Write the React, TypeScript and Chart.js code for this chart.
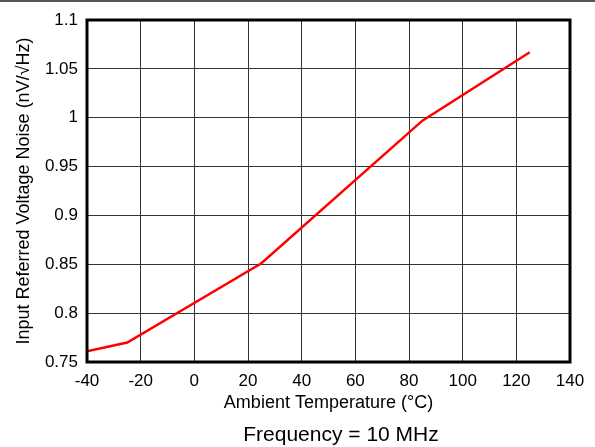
import React, { useEffect, useRef } from "react";
import { Chart, registerables } from "chart.js";

Chart.register(...registerables);

const temperatures = [-40, -25, 25, 85, 125];
const noiseValues = [0.761, 0.770, 0.851, 0.997, 1.067];
const xTitle = "Ambient Temperature (°C)";
const yTitle = "Input Referred Voltage Noise (nV/√Hz)";
const bottomTitle = "Frequency = 10 MHz";

const FONT = "'Liberation Sans', Arial, Helvetica, sans-serif";

const frame = {
  id: "frame",
  beforeDraw(chart: any) {
    const ctx = chart.ctx;
    ctx.save();
    ctx.fillStyle = "#ffffff";
    ctx.fillRect(0, 0, chart.width, chart.height);
    ctx.fillStyle = "#555555";
    ctx.fillRect(0, 0, chart.width, 2);
    ctx.restore();
  },
  afterDraw(chart: any) {
    const { ctx, chartArea } = chart;
    ctx.save();
    ctx.strokeStyle = "#000000";
    ctx.lineWidth = 3;
    ctx.strokeRect(
      chartArea.left,
      chartArea.top,
      chartArea.right - chartArea.left,
      chartArea.bottom - chartArea.top
    );
    ctx.fillStyle = "#000";
    ctx.font = `21px ${FONT}`;
    ctx.textAlign = "center";
    ctx.textBaseline = "middle";
    ctx.fillText(bottomTitle, 341, 435);
    ctx.restore();
  },
};

export default function App() {
  const ref = useRef<HTMLCanvasElement | null>(null);
  useEffect(() => {
    if (!ref.current) return;
    const data = temperatures.map((t, i) => ({ x: t, y: noiseValues[i] }));
    const chart = new Chart(ref.current, {
      type: "line",
      data: {
        datasets: [
          {
            data,
            borderColor: "#ff0000",
            borderWidth: 2.5,
            pointRadius: 0,
            tension: 0,
            fill: false,
          },
        ],
      },
      options: {
        animation: false,
        responsive: false,
        devicePixelRatio: 1,
        layout: { padding: { left: 0, right: 25, top: 20, bottom: 33.2 } },
        plugins: {
          legend: { display: false },
          tooltip: { enabled: false },
          title: { display: false },
        },
        scales: {
          x: {
            type: "linear",
            min: -40,
            max: 140,
            ticks: {
              stepSize: 20,
              color: "#000",
              font: { family: FONT, size: 17 },
              padding: 9,
              maxRotation: 0,
            },
            grid: { color: "#333", lineWidth: 1, drawTicks: false },
            border: { display: false },
            title: {
              display: true,
              text: xTitle,
              color: "#000",
              font: { family: FONT, size: 18 },
              padding: { top: 0, bottom: 0 },
            },
            afterFit(scale: any) {
              scale.height = 51.8;
            },
          },
          y: {
            type: "linear",
            min: 0.75,
            max: 1.1,
            ticks: {
              stepSize: 0.05,
              color: "#000",
              font: { family: FONT, size: 17 },
              padding: 9,
              callback: (v: any) => String(Number(Number(v).toFixed(2))),
            },
            grid: { color: "#333", lineWidth: 1, drawTicks: false },
            border: { display: false },
            title: {
              display: true,
              text: yTitle,
              color: "#000",
              font: { family: FONT, size: 18 },
              padding: { top: 13, bottom: 0 },
            },
            afterFit(scale: any) {
              scale.width = 87;
            },
          },
        },
      },
      plugins: [frame],
    } as any);
    return () => chart.destroy();
  }, []);
  return (
    <div style={{ position: "fixed", left: 0, top: 0, width: 595, height: 447, background: "#fff" }}>
      <canvas ref={ref} width={595} height={447} style={{ display: "block" }} />
    </div>
  );
}
